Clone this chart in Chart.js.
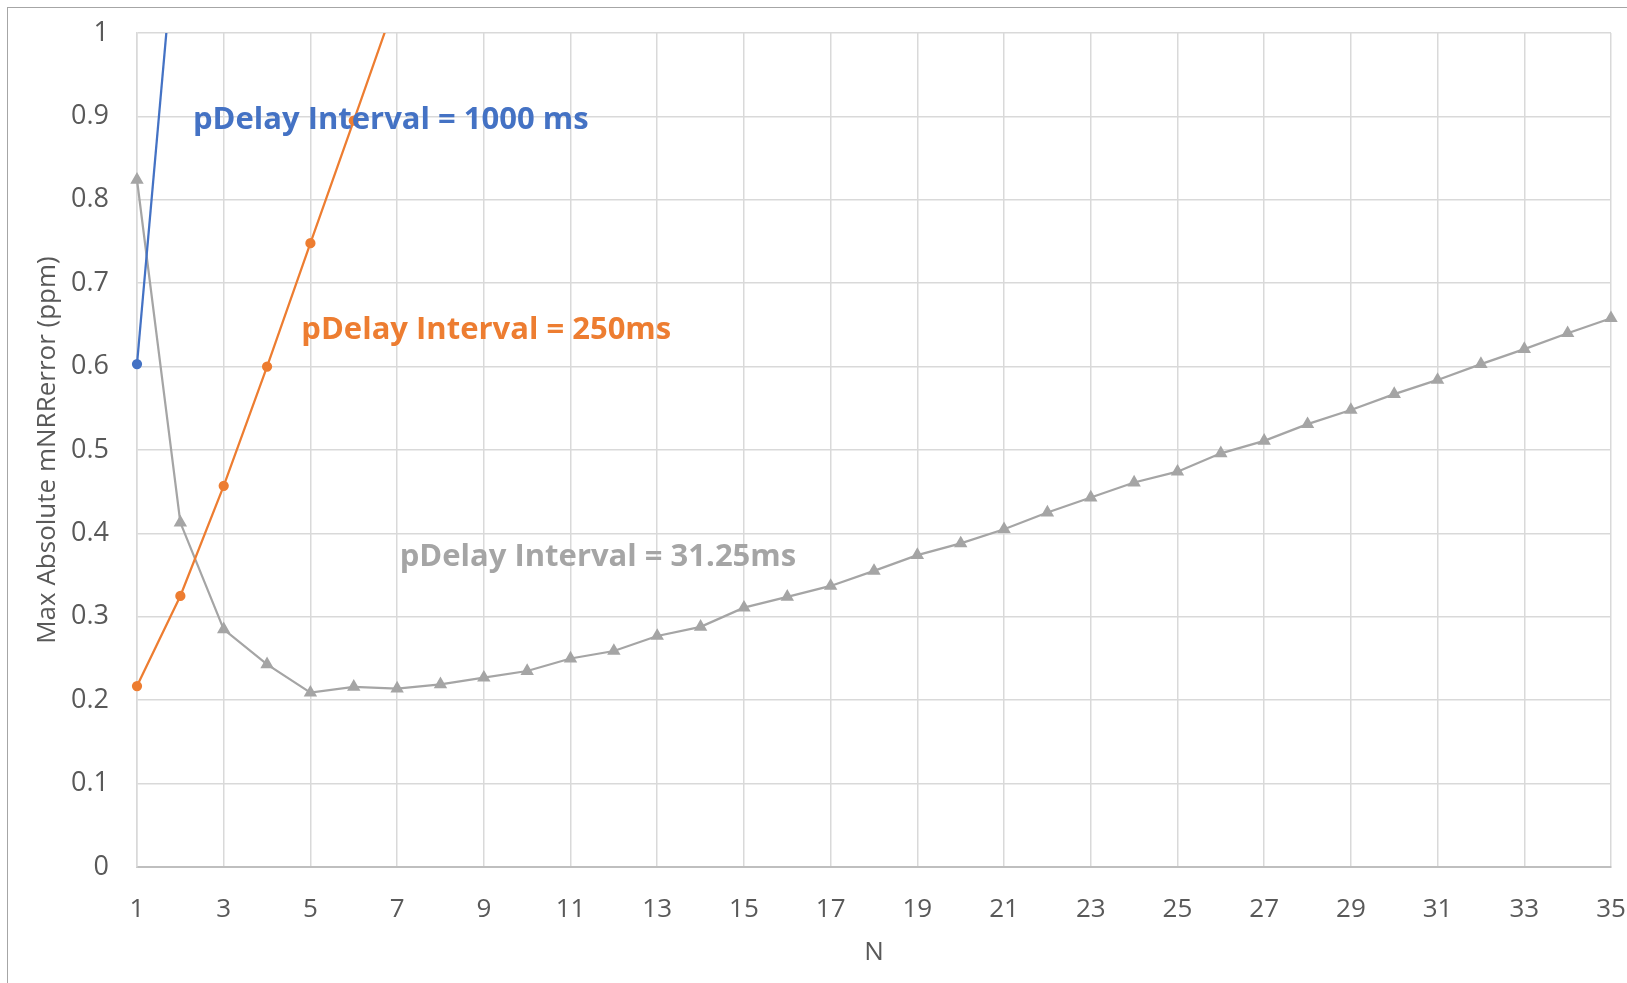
<!DOCTYPE html>
<html>
<head>
<meta charset="utf-8">
<script src="https://cdn.jsdelivr.net/npm/chart.js@4.4.1/dist/chart.umd.min.js"></script>
<style>
  html, body { margin: 0; padding: 0; background: #fff; }
  #wrap { position: relative; width: 1627px; height: 983px; }
  #frame { position: absolute; left: 7px; top: 7px; right: -2px; bottom: -2px; border: 1px solid #a6a6a6; pointer-events: none; }
  canvas { position: absolute; left: 0; top: 0; }
</style>
</head>
<body>
<div id="wrap">
  <canvas id="chart" width="1627" height="983"></canvas>
  <div id="frame"></div>
</div>
<script>
// N = 1 .. 35
const nValues = [1, 2, 3, 4, 5, 6, 7, 8, 9, 10, 11, 12, 13, 14, 15, 16, 17, 18,
  19, 20, 21, 22, 23, 24, 25, 26, 27, 28, 29, 30, 31, 32, 33, 34, 35];

// pDelay interval 1000 ms (goes off the top of the chart after N=1)
const err1000 = [0.603, 1.19];

// pDelay interval 250 ms
const err250 = [0.217, 0.325, 0.457, 0.600, 0.748, 0.895, 1.043];

// pDelay interval 31.25 ms
const err3125 = [0.824, 0.413, 0.285, 0.243, 0.209, 0.216, 0.214, 0.219, 0.227, 0.235,
  0.250, 0.259, 0.277, 0.288, 0.311, 0.324, 0.337, 0.355, 0.374, 0.388,
  0.405, 0.425, 0.443, 0.461, 0.474, 0.496, 0.511, 0.531, 0.548, 0.567,
  0.584, 0.603, 0.621, 0.640, 0.658];

const yTicks = [0, 0.1, 0.2, 0.3, 0.4, 0.5, 0.6, 0.7, 0.8, 0.9, 1];

// series names written next to the lines: [text, N, value, colour]
const seriesLabels = [
  ['pDelay Interval = 1000 ms', 2.29, 0.895, '#4472C4'],
  ['pDelay Interval = 250ms', 4.79, 0.644, '#ED7D31'],
  ['pDelay Interval = 31.25ms', 7.06, 0.372, '#A5A5A5']
];

const FONT = '"Open Sans", Lato, sans-serif';

const labelPlugin = {
  id: 'seriesLabels',
  afterDatasetsDraw(chart) {
    const ctx = chart.ctx;
    const x = chart.scales.x, y = chart.scales.y;
    ctx.save();
    ctx.font = 'bold 31px ' + FONT;
    ctx.textBaseline = 'middle';
    ctx.textAlign = 'left';
    seriesLabels.forEach(([txt, n, v, col]) => {
      ctx.fillStyle = col;
      ctx.fillText(txt, x.getPixelForValue(n - 1), y.getPixelForValue(v));
    });
    ctx.restore();
  }
};

Chart.defaults.font.family = FONT;
Chart.defaults.color = '#595959';

function lineSet(label, data, color, style, radius) {
  return {
    label: label,
    data: data,
    borderColor: color,
    backgroundColor: color,
    borderWidth: 2.25,
    pointRadius: radius,
    pointStyle: style,
    tension: 0,
    // only cut off what runs past the top (max = 1)
    clip: { left: false, top: 0, right: false, bottom: false }
  };
}

// drop the label overhang Chart.js reserves, the padding below does the job
function noOverhang(s) {
  s.paddingTop = 0;
  s.paddingBottom = 0;
  s.paddingLeft = 0;
  s.paddingRight = 0;
}

new Chart(document.getElementById('chart').getContext('2d'), {
  type: 'line',
  data: {
    labels: nValues.map(String),
    datasets: [
      lineSet('pDelay Interval = 1000 ms', err1000, '#4472C4', 'circle', 4),
      lineSet('pDelay Interval = 250ms', err250, '#ED7D31', 'circle', 4),
      lineSet('pDelay Interval = 31.25ms', err3125, '#A5A5A5', 'triangle', 5.5)
    ]
  },
  options: {
    responsive: false,
    animation: false,
    events: [],
    layout: { autoPadding: false, padding: { top: 33, right: 16, bottom: 0, left: 0 } },
    plugins: {
      legend: { display: false },
      tooltip: { enabled: false }
    },
    scales: {
      x: {
        type: 'category',
        offset: false,
        grid: {
          drawTicks: false,
          color: c => (c.index % 2 === 0 ? '#d9d9d9' : 'rgba(0,0,0,0)'),
          lineWidth: 1.5
        },
        border: { color: '#bfbfbf', width: 2 },
        ticks: {
          autoSkip: false,
          maxRotation: 0,
          padding: 27,
          font: { size: 26 },
          callback: function(val, i) { return i % 2 === 0 ? this.getLabelForValue(val) : ''; }
        },
        title: { display: true, text: 'N', font: { size: 26 }, padding: 15 },
        afterFit: s => { s.height = 116; noOverhang(s); }
      },
      y: {
        min: 0,
        max: 1,
        afterBuildTicks: s => { s.ticks = yTicks.map(v => ({ value: v })); },
        grid: { drawTicks: false, color: '#d9d9d9', lineWidth: 1.5 },
        border: { color: '#d9d9d9', width: 1.5 },
        ticks: { padding: 28, font: { size: 27 }, callback: v => String(v) },
        title: { display: true, text: 'Max Absolute mNRRerror (ppm)', font: { size: 26 }, padding: 32 },
        afterFit: s => { s.width = 137; noOverhang(s); }
      }
    }
  },
  plugins: [labelPlugin]
});
</script>
</body>
</html>
